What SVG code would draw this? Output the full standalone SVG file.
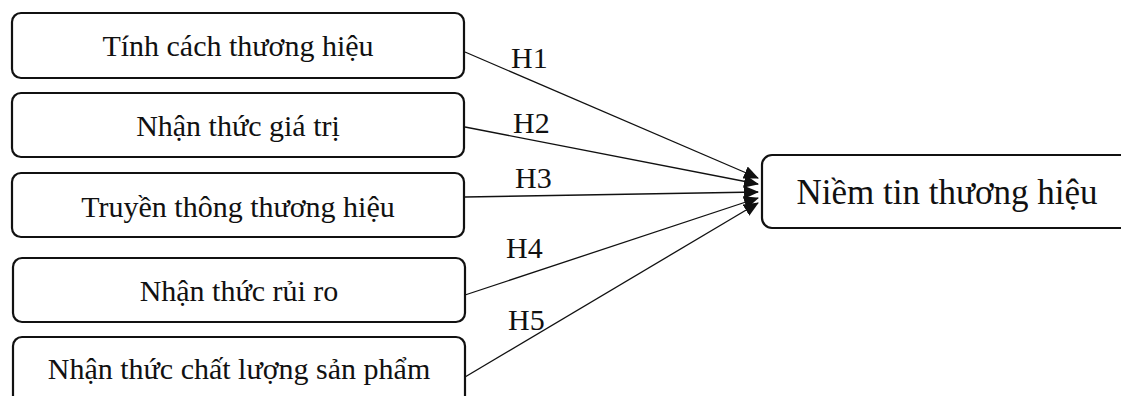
<svg xmlns="http://www.w3.org/2000/svg" width="1121" height="396" viewBox="0 0 1121 396">
<style>
.box{fill:#fff;stroke:#111;stroke-width:2.2}
.t{font-family:"Liberation Serif",serif;font-size:30px;fill:#111;text-anchor:middle}
.big{font-size:35px}
.lbl{font-family:"Liberation Serif",serif;font-size:30px;fill:#111}
.c{stroke:#111;stroke-width:1.3;fill:none}
</style>
<defs>
<marker id="ah" markerWidth="15" markerHeight="13" refX="14" refY="6.5" orient="auto" markerUnits="userSpaceOnUse">
<path d="M0,0 L15,6.5 L0,13 Z" fill="#111"/>
</marker>
</defs>
<rect width="1121" height="396" fill="#fff"/>
<g id="n1"><rect class="box" x="12" y="13" width="452" height="65" rx="9"/><text class="t" x="238" y="56">Tính cách thương hiệu</text></g>
<g id="n2"><rect class="box" x="12" y="93" width="452" height="64" rx="9"/><text class="t" x="238" y="136">Nhận thức giá trị</text></g>
<g id="n3"><rect class="box" x="12" y="173" width="452" height="64" rx="9"/><text class="t" x="238" y="217">Truyền thông thương hiệu</text></g>
<g id="n4"><rect class="box" x="13" y="258" width="452" height="64" rx="9"/><text class="t" x="239" y="301">Nhận thức rủi ro</text></g>
<g id="n5"><rect class="box" x="13" y="337" width="452" height="80" rx="9"/><text class="t" x="239" y="379">Nhận thức chất lượng sản phẩm</text></g>
<g id="n6"><rect class="box" x="762" y="155" width="380" height="73" rx="10"/><text class="t big" x="947" y="204">Niềm tin thương hiệu</text></g>
<g id="connectors">
<line class="c" x1="465" y1="52" x2="758" y2="178" marker-end="url(#ah)"/>
<line class="c" x1="465" y1="127" x2="758" y2="184" marker-end="url(#ah)"/>
<line class="c" x1="465" y1="197" x2="758" y2="192" marker-end="url(#ah)"/>
<line class="c" x1="465" y1="295" x2="758" y2="198" marker-end="url(#ah)"/>
<line class="c" x1="465" y1="377" x2="758" y2="203" marker-end="url(#ah)"/>
<text class="lbl" x="511" y="68">H1</text>
<text class="lbl" x="513" y="133">H2</text>
<text class="lbl" x="515" y="188">H3</text>
<text class="lbl" x="506" y="258">H4</text>
<text class="lbl" x="508" y="330">H5</text>
</g>
</svg>
